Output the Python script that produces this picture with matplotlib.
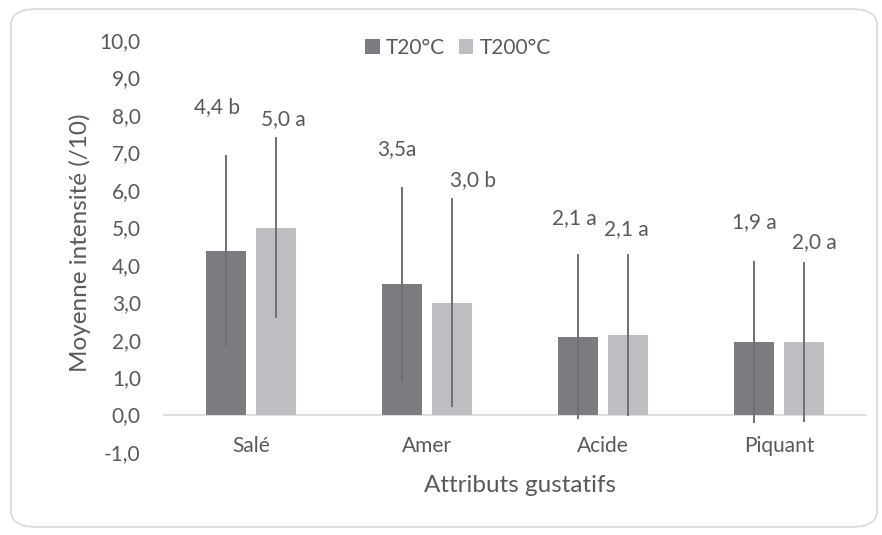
import numpy as np
import matplotlib.pyplot as plt
from matplotlib.patches import FancyBboxPatch

# --- Data ---
categories = ["Salé", "Amer", "Acide", "Piquant"]
series = ["T20°C", "T200°C"]
t20_mean = [4.37, 3.48, 2.08, 1.94]
t200_mean = [4.99, 2.99, 2.12, 1.94]
t20_sd = [2.55, 2.60, 2.20, 2.16]
t200_sd = [2.41, 2.80, 2.17, 2.13]
t20_labels = ["4,4 b", "3,5a", "2,1 a", "1,9 a"]
t200_labels = ["5,0 a", "3,0 b", "2,1 a", "2,0 a"]

# label placement (data y, x shift in category units), set by hand like in the original
t20_label_y = [8.2, 7.1, 5.25, 5.15]
t200_label_y = [7.9, 6.25, 4.95, 4.6]
t20_label_dx = [-0.05, -0.03, -0.02, 0.0]
t200_label_dx = [0.04, 0.12, -0.01, 0.06]

# --- Style ---
plt.rcParams['font.family'] = ['Lato', 'DejaVu Sans']
txt = '#595959'
c_dark = '#7b7c80'
c_light = '#bdbec1'
c_err = '#6f7074'
fs = 15

fig = plt.figure(figsize=(8.82, 5.35), dpi=100)
ax = fig.add_axes([163/882, 1-452/535, (867-163)/882, (452-40)/535])

# rounded frame around the chart
frame = FancyBboxPatch((11/882, 8/535), 866/882, 518/535,
                       boxstyle="round,pad=0,rounding_size=0.03",
                       transform=fig.transFigure, facecolor='none',
                       edgecolor='#d9d9d9', linewidth=1.2)
fig.patches.append(frame)

x = np.arange(len(categories))
w = 0.222
off = 0.5*w + 0.031

b1 = ax.bar(x - off, t20_mean, w, color=c_dark, label=series[0], zorder=2)
b2 = ax.bar(x + off, t200_mean, w, color=c_light, label=series[1], zorder=2)
ax.errorbar(x - off, t20_mean, yerr=t20_sd, fmt='none', ecolor=c_err,
            elinewidth=1.4, capsize=0, zorder=3)
ax.errorbar(x + off, t200_mean, yerr=t200_sd, fmt='none', ecolor=c_err,
            elinewidth=1.4, capsize=0, zorder=3)

for i in range(len(categories)):
    ax.text(x[i] - off + t20_label_dx[i], t20_label_y[i], t20_labels[i],
            ha='center', va='center', fontsize=fs, color=txt)
    ax.text(x[i] + off + t200_label_dx[i], t200_label_y[i], t200_labels[i],
            ha='center', va='center', fontsize=fs, color=txt)
    ax.text(x[i], -0.85, categories[i], ha='center', va='center',
            fontsize=fs, color=txt)

ax.axhline(0, color='#d9d9d9', linewidth=1.2, zorder=1)

ax.set_xlim(-0.5, len(categories) - 0.5)
ax.set_ylim(-1, 10)
ax.set_yticks(np.arange(-1, 11, 1))
ax.set_yticklabels([f"{v:.1f}".replace('.', ',') for v in np.arange(-1, 11, 1)])
ax.set_xticks([])
ax.tick_params(axis='y', length=0, pad=16, labelsize=fs, labelcolor=txt)
for s in ax.spines.values():
    s.set_visible(False)

fig.text(80/882, 1-243/535, "Moyenne intensité (/10)", rotation=90,
         ha='center', va='center', fontsize=17.5, color=txt)
fig.text(520/882, 1-485/535, "Attributs gustatifs", ha='center', va='center',
         fontsize=17.5, color=txt)

fig.legend(handles=[b1, b2], loc='center', bbox_to_anchor=(458/882, 1-48/535),
           ncol=2, frameon=False, fontsize=fs, handlelength=0.7,
           handleheight=0.7, handletextpad=0.3, columnspacing=0.65,
           labelcolor=txt)

fig.savefig('out.png', dpi=100)
